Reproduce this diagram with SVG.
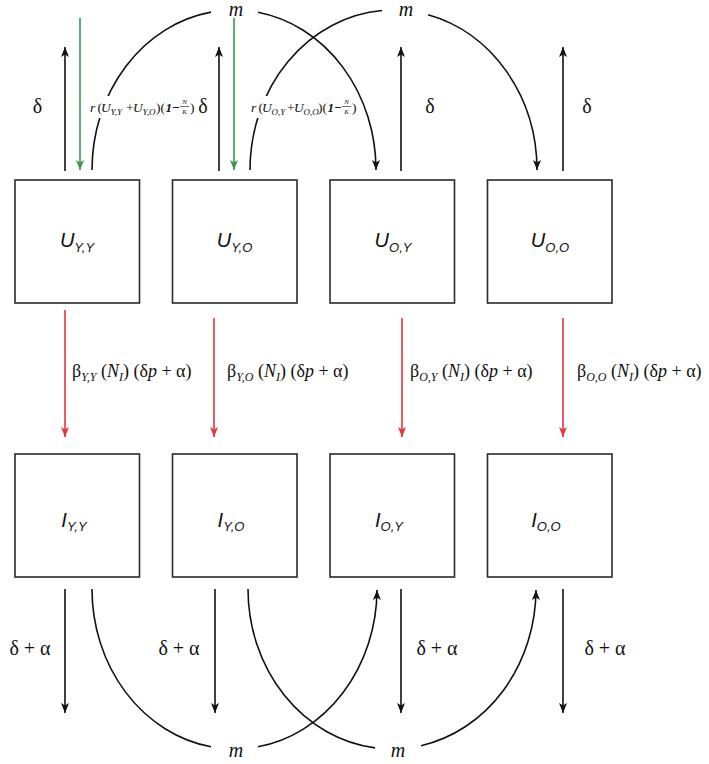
<svg xmlns="http://www.w3.org/2000/svg" width="709" height="764" viewBox="0 0 709 764">
<style>
.box{fill:#fff;stroke:#2a2a2a;stroke-width:1.6}
.ln{fill:none;stroke:#111;stroke-width:1.6}
.gr{fill:none;stroke:#3a9a4a;stroke-width:1.6}
.rd{fill:none;stroke:#e8343f;stroke-width:1.6}
.nl{font-family:"Liberation Sans",Arial,sans-serif;font-style:italic;font-size:20px;fill:#111}
.nls{font-size:13px}
.d,.f,.fs,.fx,.one,.b{font-family:"Liberation Serif","Times New Roman",serif;fill:#111}
.it{font-style:italic}
.d{font-size:20px}
.f{font-size:13.5px}
.fs{font-size:9px;font-style:italic}
.fx{font-size:7px;font-style:italic}
.one{font-size:13px;font-style:italic;font-weight:bold}
.b{font-size:18px}
.bs{font-size:12px;font-style:italic}
</style>
<defs>
<marker id="ah" viewBox="0 0 10 8" refX="10" refY="4" markerWidth="10" markerHeight="8" markerUnits="userSpaceOnUse" orient="auto"><path d="M0,0 L10,4 L0,8 L2.5,4 z" fill="#111"/></marker>
<marker id="ahg" viewBox="0 0 10 8" refX="10" refY="4" markerWidth="10" markerHeight="8" markerUnits="userSpaceOnUse" orient="auto"><path d="M0,0 L10,4 L0,8 L2.5,4 z" fill="#3a9a4a"/></marker>
<marker id="ahr" viewBox="0 0 10 8" refX="10" refY="4" markerWidth="10" markerHeight="8" markerUnits="userSpaceOnUse" orient="auto"><path d="M0,0 L10,4 L0,8 L2.5,4 z" fill="#e8343f"/></marker>
</defs>
<rect width="709" height="764" fill="#fff"/>

<g id="connectors">
  <path class="ln" d="M65,171 L65,47" marker-end="url(#ah)"/>
  <path class="ln" d="M219,171 L219,47" marker-end="url(#ah)"/>
  <path class="ln" d="M401,171 L401,47" marker-end="url(#ah)"/>
  <path class="ln" d="M563,171 L563,47" marker-end="url(#ah)"/>
  <path class="gr" d="M80,18 L80,170" marker-end="url(#ahg)"/>
  <path class="gr" d="M234,18 L234,170" marker-end="url(#ahg)"/>
  <path class="ln" d="M92,170 A142,160 0 0 1 211,12.1"/>
  <path class="ln" d="M258,12.3 A142,160 0 0 1 376,170" marker-end="url(#ah)"/>
  <path class="ln" d="M250,170 A143.5,160 0 0 1 382,10.5"/>
  <path class="ln" d="M428,14.7 A143.5,160 0 0 1 537,170" marker-end="url(#ah)"/>
  <path class="rd" d="M65,310 L65,437" marker-end="url(#ahr)"/>
  <path class="rd" d="M214,318 L214,437" marker-end="url(#ahr)"/>
  <path class="rd" d="M402,318 L402,437" marker-end="url(#ahr)"/>
  <path class="rd" d="M563,318 L563,437" marker-end="url(#ahr)"/>
  <path class="ln" d="M65,589 L65,713" marker-end="url(#ah)"/>
  <path class="ln" d="M215,589 L215,713" marker-end="url(#ah)"/>
  <path class="ln" d="M401,589 L401,713" marker-end="url(#ah)"/>
  <path class="ln" d="M563,589 L563,713" marker-end="url(#ah)"/>
  <path class="ln" d="M92,589 A142.5,160 0 0 0 211,746.8"/>
  <path class="ln" d="M258,746.8 A142.5,160 0 0 0 377,590" marker-end="url(#ah)"/>
  <path class="ln" d="M248,589 A144,160 0 0 0 375,747.9"/>
  <path class="ln" d="M421,745.7 A144,160 0 0 0 536,590" marker-end="url(#ah)"/>
</g>

<g id="labels">
  <text class="d it" x="236" y="16" text-anchor="middle">m</text>
  <text class="d it" x="406" y="16" text-anchor="middle">m</text>
  <text class="d it" x="236" y="757" text-anchor="middle">m</text>
  <text class="d it" x="398" y="757" text-anchor="middle">m</text>
  <text class="d" x="37.5" y="113" text-anchor="middle">δ</text>
  <text class="d" x="203" y="113" text-anchor="middle">δ</text>
  <text class="d" x="430" y="113" text-anchor="middle">δ</text>
  <text class="d" x="587" y="113" text-anchor="middle">δ</text>
  <text class="d" x="30" y="655" text-anchor="middle">δ + α</text>
  <text class="d" x="179" y="655" text-anchor="middle">δ + α</text>
  <text class="d" x="437" y="655" text-anchor="middle">δ + α</text>
  <text class="d" x="605" y="655" text-anchor="middle">δ + α</text>
  <g id="birth1">
    <rect x="88" y="96" width="108" height="22" fill="#fff"/>
    <text class="f it" x="90" y="112">r</text>
    <text class="f" x="97.5" y="112">(</text>
    <text class="f it" x="101" y="112">U</text>
    <text class="fs" x="110.5" y="115">Y,Y</text>
    <text class="f" x="126" y="112">+</text>
    <text class="f it" x="133" y="112">U</text>
    <text class="fs" x="142.5" y="115">Y,O</text>
    <text class="f" x="156" y="112">)(</text>
    <text class="one" x="165.5" y="112">1−</text>
    <text class="fx" x="184.5" y="104" text-anchor="middle">N</text>
    <path d="M180,106.5 L189,106.5" stroke="#111" stroke-width="0.6"/>
    <text class="fx" x="184.5" y="113.5" text-anchor="middle">K</text>
    <text class="f" x="190" y="112">)</text>
  </g>
  <g id="birth2">
    <rect x="249" y="96" width="108" height="22" fill="#fff"/>
    <text class="f it" x="251" y="112">r</text>
    <text class="f" x="258.5" y="112">(</text>
    <text class="f it" x="262" y="112">U</text>
    <text class="fs" x="271.5" y="115">O,Y</text>
    <text class="f" x="287" y="112">+</text>
    <text class="f it" x="294" y="112">U</text>
    <text class="fs" x="303.5" y="115">O,O</text>
    <text class="f" x="318" y="112">)(</text>
    <text class="one" x="327.5" y="112">1−</text>
    <text class="fx" x="346.5" y="104" text-anchor="middle">N</text>
    <path d="M342,106.5 L351,106.5" stroke="#111" stroke-width="0.6"/>
    <text class="fx" x="346.5" y="113.5" text-anchor="middle">K</text>
    <text class="f" x="352" y="112">)</text>
  </g>
  <text class="b" x="72" y="377">β<tspan class="bs" dy="4">Y,Y</tspan><tspan dy="-4"> (</tspan><tspan class="it">N</tspan><tspan class="bs" dy="4">I</tspan><tspan dy="-4">) (δ</tspan><tspan class="it">p</tspan> + α)</text>
  <text class="b" x="227" y="377">β<tspan class="bs" dy="4">Y,O</tspan><tspan dy="-4"> (</tspan><tspan class="it">N</tspan><tspan class="bs" dy="4">I</tspan><tspan dy="-4">) (δ</tspan><tspan class="it">p</tspan> + α)</text>
  <text class="b" x="410" y="377">β<tspan class="bs" dy="4">O,Y</tspan><tspan dy="-4"> (</tspan><tspan class="it">N</tspan><tspan class="bs" dy="4">I</tspan><tspan dy="-4">) (δ</tspan><tspan class="it">p</tspan> + α)</text>
  <text class="b" x="577" y="377">β<tspan class="bs" dy="4">O,O</tspan><tspan dy="-4"> (</tspan><tspan class="it">N</tspan><tspan class="bs" dy="4">I</tspan><tspan dy="-4">) (δ</tspan><tspan class="it">p</tspan> + α)</text>
</g>

<g id="U_YY"><rect class="box" x="15" y="180" width="124.5" height="123"/><text class="nl" x="77" y="247" text-anchor="middle">U<tspan class="nls" dy="5">Y,Y</tspan></text></g>
<g id="U_YO"><rect class="box" x="172.5" y="180" width="124.5" height="123"/><text class="nl" x="234.5" y="247" text-anchor="middle">U<tspan class="nls" dy="5">Y,O</tspan></text></g>
<g id="U_OY"><rect class="box" x="330" y="180" width="124.5" height="123"/><text class="nl" x="393" y="247" text-anchor="middle">U<tspan class="nls" dy="5">O,Y</tspan></text></g>
<g id="U_OO"><rect class="box" x="487.5" y="180" width="124.5" height="123"/><text class="nl" x="550" y="247" text-anchor="middle">U<tspan class="nls" dy="5">O,O</tspan></text></g>
<g id="I_YY"><rect class="box" x="15" y="454" width="124.5" height="123"/><text class="nl" x="74" y="527" text-anchor="middle">I<tspan class="nls" dy="4">Y,Y</tspan></text></g>
<g id="I_YO"><rect class="box" x="172.5" y="454" width="124.5" height="123"/><text class="nl" x="231" y="527" text-anchor="middle">I<tspan class="nls" dy="4">Y,O</tspan></text></g>
<g id="I_OY"><rect class="box" x="330" y="454" width="124.5" height="123"/><text class="nl" x="389" y="527" text-anchor="middle">I<tspan class="nls" dy="4">O,Y</tspan></text></g>
<g id="I_OO"><rect class="box" x="487.5" y="454" width="124.5" height="123"/><text class="nl" x="546" y="527" text-anchor="middle">I<tspan class="nls" dy="4">O,O</tspan></text></g>
</svg>
